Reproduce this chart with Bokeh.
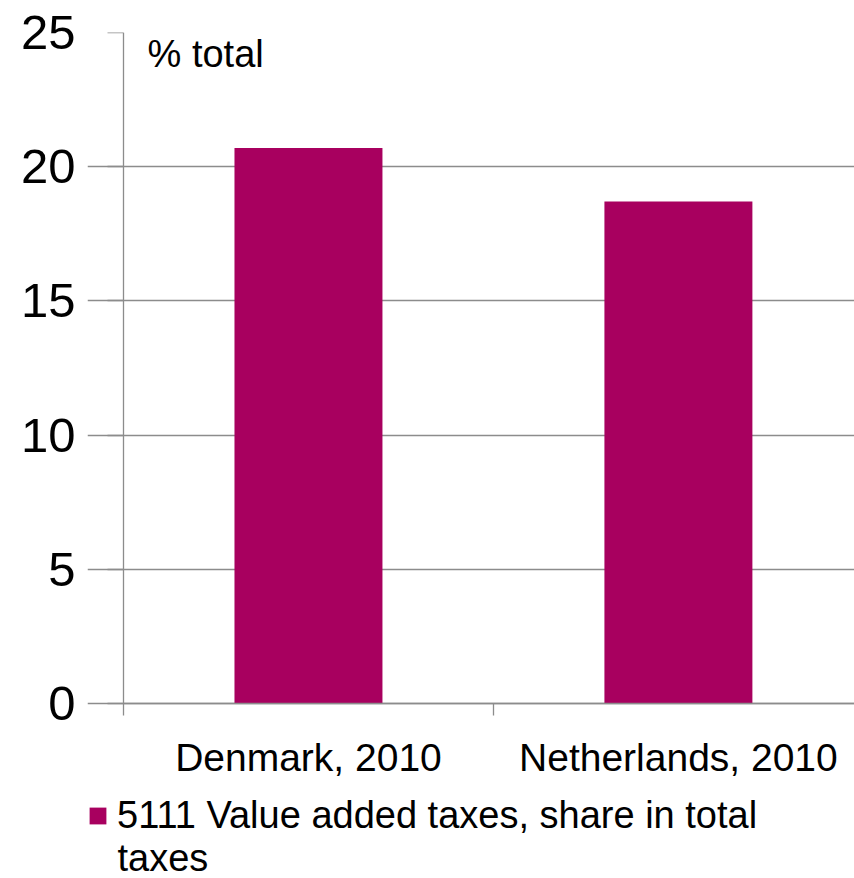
from bokeh.plotting import figure
from bokeh.models import (Range1d, FixedTicker, LinearAxis, Legend, LegendItem, Label, Grid)
from bokeh.embed import file_html
from bokeh.resources import INLINE
import numpy as np

# ---- data ----
categories = ["Denmark, 2010", "Netherlands, 2010"]
values = [20.7, 18.7]
series_name_lines = ["5111 Value added taxes, share in total", "taxes"]
y_ticks = [0, 5, 10, 15, 20, 25]
unit_label = "% total"

BAR = "#A8005F"
GRID = "#8C8C8C"
FONT = "Liberation Sans"

n = len(categories)
x_centers = np.arange(n) + 0.5
boundaries = list(range(n + 1))

p = figure(width=854, height=878, output_backend="svg", toolbar_location=None,
           x_range=Range1d(-0.0973, 1.976), y_range=Range1d(-6.52, 25),
           min_border_left=87, min_border_right=0, min_border_top=32,
           min_border_bottom=0, x_axis_type=None, y_axis_type=None)
p.outline_line_color = None
p.background_fill_color = "white"
p.border_fill_color = "white"

bars = p.vbar(x=x_centers, top=values, width=0.4, fill_color=BAR, line_color=None)

# y tick labels (left panel)
yl = LinearAxis(ticker=FixedTicker(ticks=y_ticks))
yl.axis_line_color = None
yl.major_tick_line_color = None
yl.minor_tick_line_color = None
yl.major_tick_out = 0
yl.major_tick_in = 0
yl.major_label_text_font = FONT
yl.major_label_text_font_size = "49px"
yl.major_label_text_color = "black"
yl.major_label_standoff = 12
p.add_layout(yl, "left")

# y axis line and ticks (drawn at x = 0 inside the frame)
ya = LinearAxis(ticker=FixedTicker(ticks=y_ticks), fixed_location=0, bounds=(0, 25))
ya.major_tick_out = 16
ya.major_tick_in = 0
ya.minor_tick_line_color = None
ya.major_tick_line_color = GRID
ya.major_tick_line_width = 1.3
ya.axis_line_color = GRID
ya.axis_line_width = 1.3
ya.major_label_overrides = {t: "" for t in y_ticks}
ya.major_label_text_font_size = "1px"
p.add_layout(ya, "left")

p.ygrid.grid_line_color = None
p.xgrid.grid_line_color = None
p.add_layout(Grid(dimension=1, ticker=FixedTicker(ticks=y_ticks),
                  grid_line_color=GRID, grid_line_width=1.3))

# x axis with boundary ticks (drawn at y = 0)
xa1 = LinearAxis(ticker=FixedTicker(ticks=boundaries), fixed_location=0,
                 bounds=(0, 1.976))
xa1.major_tick_out = 12
xa1.major_tick_in = 0
xa1.minor_tick_line_color = None
xa1.major_tick_line_color = GRID
xa1.major_tick_line_width = 1.3
xa1.axis_line_color = GRID
xa1.axis_line_width = 1.3
xa1.major_label_overrides = {b: "" for b in boundaries}
xa1.major_label_standoff = 0
xa1.major_label_text_font_size = "1px"
p.add_layout(xa1, "below")

# category label axis
xa2 = LinearAxis(ticker=FixedTicker(ticks=list(x_centers)), fixed_location=0)
xa2.axis_line_color = None
xa2.major_tick_line_color = None
xa2.minor_tick_line_color = None
xa2.major_tick_out = 0
xa2.major_tick_in = 0
xa2.major_label_overrides = {float(c): lab for c, lab in zip(x_centers, categories)}
xa2.major_label_text_font = FONT
xa2.major_label_text_font_size = "39px"
xa2.major_label_text_color = "black"
xa2.major_label_standoff = 32
p.add_layout(xa2, "below")

# unit label
p.add_layout(Label(x=0.065, y=25, text=unit_label, text_baseline="top",
                   text_font=FONT, text_font_size="38px", text_color="black"))

legend = Legend(items=[LegendItem(label=series_name_lines[0], renderers=[bars])],
                location=(0, 41), orientation="vertical",
                glyph_width=21, glyph_height=21, label_standoff=9,
                label_text_font=FONT, label_text_font_size="38px",
                label_text_color="black", padding=0, margin=0, spacing=0,
                border_line_color=None, background_fill_alpha=0)
p.add_layout(legend, "center")

# continuation line of the legend text
p.add_layout(Label(x=-0.0162, y=-5.76, text=series_name_lines[1], text_baseline="alphabetic",
                   text_font=FONT, text_font_size="38px", text_color="black"))

open("out.html", "w").write(file_html(p, INLINE))
